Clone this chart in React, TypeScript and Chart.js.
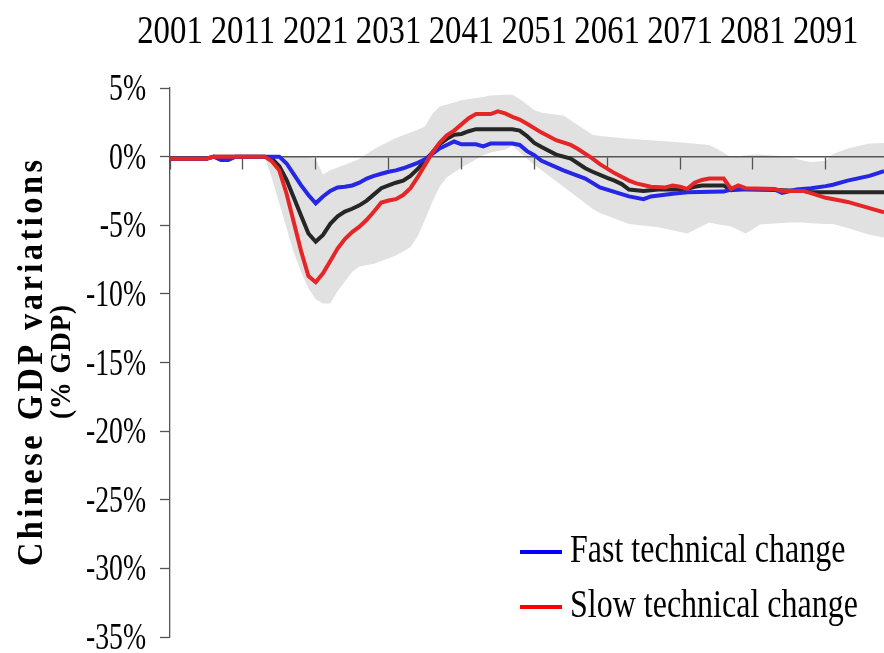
import { useEffect, useRef } from 'react';
import { Chart, registerables } from 'chart.js';

Chart.register(...registerables);

// ---- tick labels / text ----
const xTickYears = [2001, 2011, 2021, 2031, 2041, 2051, 2061, 2071, 2081, 2091];
const legendLabels = ['Fast technical change', 'Slow technical change'];
const yTitleLines = ['Chinese GDP variations', '(% GDP)'];

// ---- Fast technical change (blue) ----
const fastYears = [2001, 2006, 2007, 2008, 2009, 2010, 2015, 2016, 2017, 2018, 2019, 2020, 2021, 2022, 2023, 2024, 2025, 2026, 2027, 2028, 2029, 2030, 2031, 2032, 2033, 2034, 2035, 2036, 2037, 2038, 2039, 2040, 2041, 2043, 2044, 2045, 2048, 2049, 2050, 2051, 2052, 2055, 2057, 2058, 2060, 2064, 2066, 2067, 2070, 2072, 2077, 2078, 2084, 2085, 2087, 2089, 2091, 2092, 2094, 2097, 2099];
const fastValues = [-0.15, -0.15, 0, -0.25, -0.25, 0, 0, 0, -0.5, -1.3, -2.1, -2.8, -3.4, -2.9, -2.5, -2.25, -2.2, -2.1, -1.9, -1.6, -1.4, -1.25, -1.1, -1.0, -0.85, -0.65, -0.45, -0.2, 0.2, 0.6, 0.85, 1.1, 0.9, 0.9, 0.75, 0.95, 0.95, 0.85, 0.4, 0.1, -0.3, -1.0, -1.4, -1.6, -2.25, -2.9, -3.1, -2.9, -2.7, -2.6, -2.55, -2.4, -2.4, -2.65, -2.4, -2.3, -2.15, -2.05, -1.75, -1.4, -1.05];

// ---- Slow technical change (red) ----
const slowYears = [2001, 2006, 2007, 2014, 2015, 2016, 2017, 2018, 2019, 2020, 2021, 2022, 2023, 2024, 2025, 2026, 2027, 2028, 2029, 2030, 2031, 2032, 2033, 2034, 2035, 2036, 2037, 2038, 2039, 2040, 2041, 2042, 2043, 2045, 2046, 2047, 2048, 2049, 2050, 2052, 2054, 2056, 2057, 2059, 2060, 2062, 2064, 2065, 2067, 2069, 2070, 2071, 2072, 2073, 2074, 2075, 2077, 2078, 2079, 2080, 2084, 2085, 2088, 2091, 2093, 2094, 2099];
const slowValues = [-0.15, -0.15, 0, 0, -0.35, -1.0, -2.7, -4.8, -6.9, -8.7, -9.15, -8.5, -7.6, -6.7, -6.0, -5.5, -5.1, -4.6, -4.0, -3.35, -3.2, -3.1, -2.8, -2.3, -1.5, -0.6, 0.3, 1.0, 1.55, 1.9, 2.35, 2.8, 3.1, 3.1, 3.3, 3.15, 2.9, 2.7, 2.4, 1.75, 1.2, 0.85, 0.55, -0.15, -0.55, -1.2, -1.75, -1.95, -2.2, -2.25, -2.1, -2.2, -2.35, -1.9, -1.7, -1.6, -1.6, -2.35, -2.1, -2.3, -2.35, -2.5, -2.5, -3.0, -3.2, -3.3, -4.05];

// ---- Central scenario (black) ----
const centralYears = [2001, 2006, 2007, 2014, 2015, 2016, 2017, 2018, 2019, 2020, 2021, 2022, 2023, 2024, 2025, 2026, 2027, 2028, 2029, 2030, 2031, 2032, 2033, 2034, 2035, 2036, 2037, 2038, 2039, 2040, 2041, 2042, 2043, 2048, 2049, 2050, 2051, 2052, 2054, 2056, 2058, 2059, 2061, 2062, 2063, 2064, 2066, 2068, 2070, 2072, 2073, 2074, 2077, 2078, 2080, 2088, 2089, 2099];
const centralValues = [-0.15, -0.15, 0, 0, -0.15, -0.7, -1.7, -3.0, -4.3, -5.6, -6.2, -5.7, -4.9, -4.35, -4.0, -3.8, -3.55, -3.2, -2.75, -2.3, -2.1, -1.9, -1.75, -1.4, -0.9, -0.3, 0.3, 0.9, 1.3, 1.6, 1.65, 1.85, 2.0, 2.0, 1.9, 1.5, 1.0, 0.7, 0.15, -0.15, -0.85, -1.1, -1.55, -1.75, -2.0, -2.4, -2.5, -2.4, -2.4, -2.35, -2.2, -2.1, -2.1, -2.45, -2.35, -2.5, -2.6, -2.6];

// ---- Uncertainty band (grey) ----
const bandYears = [2014, 2015, 2016, 2017, 2018, 2019, 2020, 2021, 2022, 2023, 2024, 2026, 2027, 2029, 2032, 2034, 2035, 2036, 2037, 2038, 2039, 2041, 2042, 2044, 2045, 2047, 2048, 2049, 2051, 2052, 2055, 2059, 2060, 2064, 2068, 2072, 2075, 2076, 2078, 2080, 2081, 2082, 2086, 2088, 2089, 2091, 2092, 2094, 2097, 2099];
const bandUpper = [0, 0, 0, 0, 0, 0, 0, -0.2, -1.3, -1.0, -0.8, -0.4, -0.15, 0.55, 1.35, 1.75, 1.95, 2.2, 3.1, 3.65, 3.8, 4.1, 4.2, 4.35, 4.45, 4.5, 4.5, 4.2, 3.4, 3.2, 3.0, 1.6, 1.5, 1.3, 1.15, 1.0, 0.85, 0.6, -0.05, 0.1, 0.15, 0.15, 0, -0.3, -0.4, -0.3, 0.2, 0.6, 0.95, 1.0];
const bandLower = [0, -1.6, -3.4, -5.2, -7.0, -8.4, -9.6, -10.4, -10.7, -10.7, -9.8, -8.4, -8.0, -7.8, -7.2, -6.6, -5.8, -4.6, -3.3, -2.2, -1.5, -0.8, -0.5, 0.1, 0.3, 0.5, 0.8, 0.3, -0.6, -1.0, -2.2, -3.8, -4.1, -4.9, -5.15, -5.6, -4.8, -4.9, -5.1, -5.6, -5.3, -4.95, -4.8, -4.8, -4.85, -4.9, -4.9, -5.2, -5.7, -5.9];

const pts = (xs: number[], ys: number[]) => xs.map((x, i) => ({ x, y: ys[i] }));

const SERIF = '"Liberation Serif", "Times New Roman", serif';

function drawScaled(ctx: CanvasRenderingContext2D, text: string, x: number, y: number, font: string, sx: number, align: CanvasTextAlign) {
  ctx.save();
  ctx.font = font;
  ctx.translate(x, y);
  ctx.scale(sx, 1);
  ctx.textAlign = align;
  ctx.textBaseline = 'alphabetic';
  ctx.fillText(text, 0, 0);
  ctx.restore();
}

function drawSpacedRotated(ctx: CanvasRenderingContext2D, text: string, x: number, y: number, font: string, sx: number, targetLen: number) {
  ctx.save();
  ctx.font = font;
  const w = ctx.measureText(text).width;
  const sp = Math.max(0, (targetLen / sx - w) / Math.max(1, text.length - 1));
  (ctx as any).letterSpacing = `${sp}px`;
  ctx.translate(x, y);
  ctx.rotate(-Math.PI / 2);
  ctx.scale(sx, 1);
  ctx.textAlign = 'center';
  ctx.textBaseline = 'alphabetic';
  ctx.fillText(text, sp / 2, 0);
  ctx.restore();
}

const legendColors = ['#0000ff', '#ff0000'];

const textPlugin = {
  id: 'customText',
  afterDraw(chart: any) {
    const ctx: CanvasRenderingContext2D = chart.ctx;
    const xs = chart.scales.x;
    const ys = chart.scales.y;
    ctx.save();
    ctx.fillStyle = '#000';
    // top year labels
    xs.ticks.forEach((t: any) => {
      const px = xs.getPixelForValue(t.value);
      drawScaled(ctx, String(t.value), px, 43, `41px ${SERIF}`, 0.8, 'center');
    });
    // y tick labels
    ys.ticks.forEach((t: any) => {
      const py = ys.getPixelForValue(t.value);
      drawScaled(ctx, `${t.value}%`, 146, py + 12, `37px ${SERIF}`, 0.75, 'right');
    });
    // legend
    legendLabels.forEach((lab, i) => {
      const ly = 552 + i * 55;
      ctx.beginPath();
      ctx.strokeStyle = legendColors[i];
      ctx.lineWidth = 4;
      ctx.moveTo(520, ly);
      ctx.lineTo(562, ly);
      ctx.stroke();
      ctx.fillStyle = '#000';
      drawScaled(ctx, lab, 570, ly + 10, `40px ${SERIF}`, 0.8, 'left');
    });
    // y title
    drawSpacedRotated(ctx, yTitleLines[0], 42, 363, `bold 36px ${SERIF}`, 0.9, 406);
    drawSpacedRotated(ctx, yTitleLines[1], 70, 362, `bold 30px ${SERIF}`, 0.9, 114);
    ctx.restore();
  },
};

export default function App() {
  const ref = useRef<HTMLCanvasElement | null>(null);
  useEffect(() => {
    if (!ref.current) return;
    const chart = new Chart(ref.current, {
      type: 'line',
      data: {
        datasets: [
          { label: 'Slow technical change', data: pts(slowYears, slowValues), borderColor: '#e62626', borderWidth: 4, pointRadius: 0, tension: 0, fill: false },
          { label: 'Fast technical change', data: pts(fastYears, fastValues), borderColor: '#2626e6', borderWidth: 4, pointRadius: 0, tension: 0, fill: false },
          { label: 'Central', data: pts(centralYears, centralValues), borderColor: '#262626', borderWidth: 4, pointRadius: 0, tension: 0, fill: false },
          { label: 'Upper', data: pts(bandYears, bandUpper), borderWidth: 0, borderColor: 'rgba(0,0,0,0)', backgroundColor: '#e1e1e1', pointRadius: 0, tension: 0, fill: '+1' },
          { label: 'Lower', data: pts(bandYears, bandLower), borderWidth: 0, borderColor: 'rgba(0,0,0,0)', pointRadius: 0, tension: 0, fill: false },
        ],
      },
      options: {
        animation: false,
        responsive: false,
        devicePixelRatio: 1,
        layout: { padding: { top: 88, left: 160, right: 0, bottom: 16 } },
        plugins: {
          legend: { display: false },
          tooltip: { enabled: false },
          filler: { drawTime: 'beforeDraw' },
        },
        scales: {
          x: {
            type: 'linear',
            min: 2001,
            max: 2099,
            position: { y: 0 } as any,
            afterBuildTicks: (s: any) => { s.ticks = xTickYears.map((v) => ({ value: v })); },
            ticks: { display: false },
            grid: { drawOnChartArea: false, drawTicks: true, tickLength: 12, tickColor: '#555', tickWidth: 1.3 },
            border: { display: true, color: '#555', width: 1.5 },
          },
          y: {
            type: 'linear',
            min: -35,
            max: 5,
            position: 'left',
            ticks: { display: false, stepSize: 5 },
            grid: { drawOnChartArea: false, drawTicks: true, tickLength: 10, tickColor: '#555', tickWidth: 1.3 },
            border: { display: true, color: '#555', width: 1.3 },
          },
        },
      },
      plugins: [textPlugin],
    } as any);
    return () => chart.destroy();
  }, []);
  return (
    <canvas ref={ref} width={884} height={653} style={{ position: 'absolute', left: 0, top: 0 }} />
  );
}
